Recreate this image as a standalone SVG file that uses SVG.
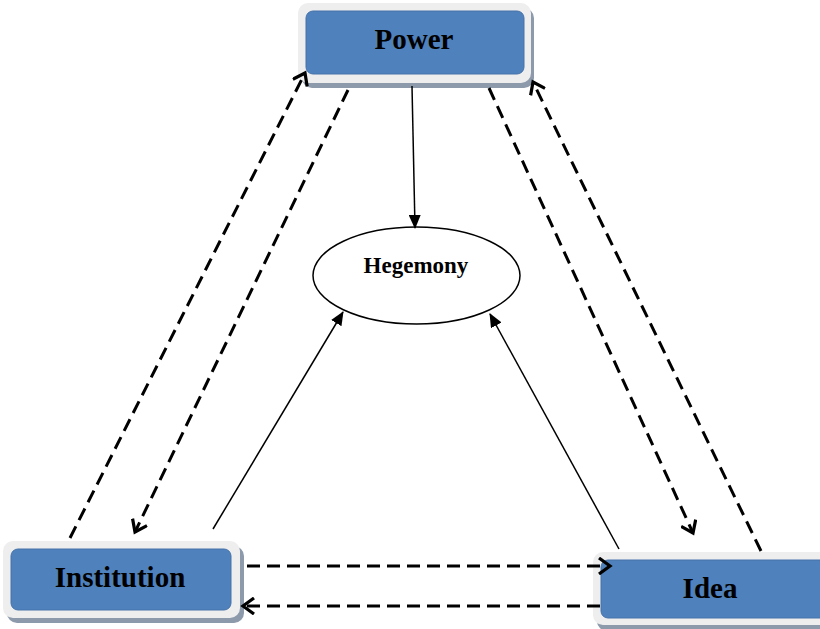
<svg xmlns="http://www.w3.org/2000/svg" width="820" height="629" viewBox="0 0 820 629">
<style>
.frame{fill:#eeeeef;}
.shadow{fill:#8d9aab;}
.box{fill:#4f81bd;stroke:#4672a8;stroke-width:1;}
.lbl{font-family:"Liberation Serif",serif;font-weight:bold;font-size:29px;fill:#000;text-anchor:middle;}
.dash{fill:none;stroke:#000;stroke-width:3;stroke-dasharray:13 7;}
.solid{fill:none;stroke:#000;stroke-width:1.5;}
</style>
<defs>
<marker id="open" markerWidth="16" markerHeight="18" refX="13" refY="9" orient="auto" markerUnits="userSpaceOnUse">
<path d="M2,1 L13,9 L2,17" fill="none" stroke="#000" stroke-width="3.2"/>
</marker>
<marker id="tri" markerWidth="14" markerHeight="12" refX="13" refY="6" orient="auto" markerUnits="userSpaceOnUse">
<path d="M0,0 L14,6 L0,12 Z" fill="#000"/>
</marker>
</defs>
<g id="power">
<rect class="shadow" x="302" y="8" width="232" height="80" rx="10"/>
<rect class="frame" x="298" y="3" width="233" height="80" rx="10"/>
<rect class="box" x="306" y="11" width="218" height="63" rx="7"/>
<text class="lbl" x="414" y="49">Power</text>
</g>
<g id="hegemony">
<ellipse cx="416.5" cy="275.5" rx="103.5" ry="48.5" fill="#fff" stroke="#000" stroke-width="1.5"/>
<text x="416" y="273" font-family="'Liberation Serif',serif" font-weight="bold" font-size="23" text-anchor="middle">Hegemony</text>
</g>
<g id="institution">
<rect class="shadow" x="7" y="546" width="237" height="77" rx="10"/>
<rect class="frame" x="3" y="541" width="237" height="77" rx="10"/>
<rect class="box" x="11" y="549" width="220" height="61" rx="7"/>
<text class="lbl" x="120" y="587">Institution</text>
</g>
<g id="idea">
<rect class="shadow" x="597" y="557" width="240" height="74" rx="10"/>
<rect class="frame" x="593" y="552" width="240" height="73" rx="10"/>
<rect class="box" x="601" y="560" width="230" height="58" rx="7"/>
<text class="lbl" x="710" y="598">Idea</text>
</g>
<g id="connectors">
<line class="solid" x1="412" y1="86" x2="415" y2="228" marker-end="url(#tri)"/>
<line class="solid" x1="213" y1="529" x2="343" y2="312" marker-end="url(#tri)"/>
<line class="solid" x1="619" y1="549" x2="490" y2="314" marker-end="url(#tri)"/>
<line class="dash" x1="70" y1="538" x2="305" y2="73" marker-end="url(#open)"/>
<line class="dash" x1="348" y1="90" x2="135" y2="532" marker-end="url(#open)"/>
<line class="dash" x1="489" y1="88" x2="693" y2="533" marker-end="url(#open)"/>
<line class="dash" x1="761" y1="551" x2="533" y2="82" marker-end="url(#open)"/>
<line class="dash" x1="247" y1="566" x2="610" y2="566" marker-end="url(#open)"/>
<line class="dash" x1="600" y1="606" x2="243" y2="606" marker-end="url(#open)"/>
</g>
</svg>
